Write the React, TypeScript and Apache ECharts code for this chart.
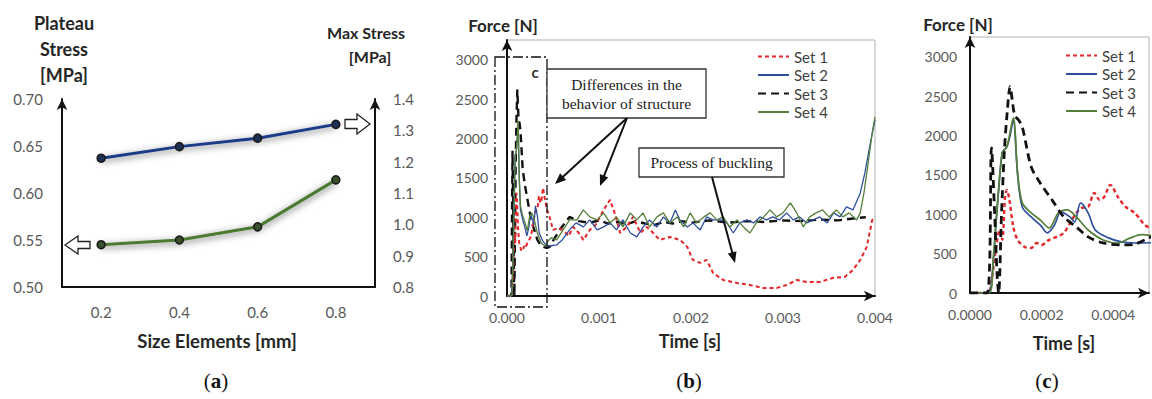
import React, { useEffect, useRef } from 'react';
import * as echarts from 'echarts';

// ---------- DATA ----------
const sizeCategories = ['0.2', '0.4', '0.6', '0.8'];
const maxStress = [1.211, 1.248, 1.275, 1.319];
const plateauStress = [0.545, 0.55, 0.564, 0.614];

const setNames = ['Set 1', 'Set 2', 'Set 3', 'Set 4'];

const set1: [number, number][] = [
  [0, 0], [0.00005, 0], [0.00006, 150], [0.000073, 585], [0.000083, 800], [0.00009, 674], [0.000098, 1220],
  [0.000103, 1309], [0.00011, 1182], [0.000121, 839], [0.000133, 674], [0.000153, 585], [0.000171, 572],
  [0.000186, 635], [0.0002, 610], [0.000221, 674], [0.000242, 712], [0.000262, 763], [0.00028, 890],
  [0.000297, 1017], [0.000312, 1080], [0.00033, 1093], [0.000347, 1271], [0.000362, 1182], [0.000375, 1220],
  [0.000392, 1373], [0.000413, 1220], [0.000435, 1093], [0.00046, 1017], [0.0005, 839], [0.00055, 860],
  [0.00061, 839], [0.00067, 760], [0.00072, 877], [0.00078, 800], [0.00083, 712], [0.0009, 839], [0.00096, 900],
  [0.00101, 1004], [0.00107, 1131], [0.00112, 1220], [0.00117, 1055], [0.00123, 800], [0.0013, 877],
  [0.00137, 1004], [0.00145, 800], [0.00152, 877], [0.00159, 800], [0.00166, 712], [0.00177, 750],
  [0.00188, 712], [0.00196, 623], [0.00202, 458], [0.0021, 420], [0.00217, 458], [0.00224, 292], [0.00235, 203],
  [0.0025, 165], [0.00264, 140], [0.00278, 102], [0.00293, 102], [0.00304, 140], [0.00315, 203], [0.00326, 178],
  [0.0034, 178], [0.00354, 229], [0.00367, 241], [0.00376, 330], [0.00384, 458], [0.00391, 623], [0.00397, 966],
  [0.004, 1000],
];

const set2: [number, number][] = [
  [0, 0], [0.00005, 0], [0.000065, 400], [0.000073, 900], [0.00008, 1300], [0.00009, 1780], [0.000103, 1856],
  [0.000112, 2000], [0.000121, 2200], [0.000133, 1500], [0.000146, 1093], [0.000171, 966], [0.000196, 864],
  [0.000216, 763], [0.000236, 864], [0.000254, 1029], [0.000279, 966], [0.000292, 902], [0.000309, 1144],
  [0.00033, 1017], [0.00035, 800], [0.000387, 700], [0.000423, 648], [0.00046, 635], [0.00054, 648],
  [0.0006, 712], [0.00068, 839], [0.00075, 928], [0.00083, 877], [0.0009, 966], [0.00098, 839], [0.00105, 877],
  [0.00112, 928], [0.00119, 839], [0.00126, 966], [0.00134, 800], [0.00141, 750], [0.00148, 877], [0.00155, 966],
  [0.00163, 877], [0.0017, 1004], [0.00177, 928], [0.00183, 1093], [0.00188, 966], [0.00196, 877],
  [0.00202, 928], [0.0021, 839], [0.00217, 1004], [0.00224, 966], [0.00232, 966], [0.00239, 928], [0.00246, 800],
  [0.00253, 928], [0.00261, 966], [0.00268, 928], [0.00275, 1004], [0.00282, 966], [0.00289, 1004],
  [0.00296, 966], [0.00304, 1055], [0.00311, 966], [0.00318, 1004], [0.00326, 928], [0.00333, 966],
  [0.0034, 1004], [0.00348, 928], [0.00355, 1055], [0.00362, 1004], [0.00369, 1131], [0.00376, 1093],
  [0.00384, 1309], [0.00389, 1563], [0.00395, 1945], [0.004, 2237],
];

const set3: [number, number][] = [
  [0, 0], [0.000048, 0], [0.00006, 1843], [0.000068, 1100], [0.000076, 200], [0.00008, 0], [0.000088, 1000],
  [0.000096, 1800], [0.000104, 2300], [0.000112, 2620], [0.000118, 2450], [0.000125, 2250], [0.000135, 2200],
  [0.000146, 2110], [0.000171, 1601], [0.000196, 1398], [0.000229, 1182], [0.000262, 966], [0.000297, 839],
  [0.00033, 712], [0.000372, 635], [0.00043, 610], [0.00046, 620], [0.0005, 700], [0.00058, 850],
  [0.00068, 1004], [0.00078, 950], [0.0009, 930], [0.001, 960], [0.0011, 920], [0.0012, 940], [0.0013, 910],
  [0.0014, 950], [0.0015, 920], [0.0016, 900], [0.0017, 940], [0.0018, 920], [0.0019, 950], [0.002, 930],
  [0.0022, 960], [0.0024, 930], [0.0026, 950], [0.0028, 940], [0.003, 960], [0.0032, 950], [0.0034, 970],
  [0.0036, 960], [0.0038, 990], [0.0039, 1000],
];

const set4: [number, number][] = [
  [0, 0], [0.000053, 0], [0.000065, 450], [0.000073, 928], [0.00009, 1780], [0.000103, 1856], [0.000121, 2224],
  [0.000133, 1525], [0.000146, 1144], [0.000171, 1017], [0.000196, 928], [0.000221, 826], [0.000247, 1017],
  [0.000272, 1055], [0.000297, 966], [0.00033, 800], [0.000372, 674], [0.000413, 635], [0.000448, 700],
  [0.00048, 740], [0.00054, 712], [0.00061, 839], [0.00068, 966], [0.00076, 966], [0.00083, 1093], [0.0009, 1004],
  [0.00098, 966], [0.00105, 1055], [0.00112, 928], [0.00119, 1004], [0.00126, 877], [0.00134, 1055],
  [0.00141, 966], [0.00148, 1055], [0.00155, 877], [0.00163, 1004], [0.0017, 1055], [0.00177, 928],
  [0.00185, 1004], [0.00192, 877], [0.00199, 1055], [0.00206, 928], [0.00214, 1004], [0.00221, 1055],
  [0.00228, 966], [0.00235, 1004], [0.00242, 877], [0.0025, 966], [0.00257, 877], [0.00264, 800], [0.00271, 928],
  [0.00279, 1004], [0.00286, 1093], [0.00293, 1004], [0.003, 1055], [0.00308, 1182], [0.00315, 1055],
  [0.00322, 877], [0.00329, 1004], [0.00336, 1055], [0.00343, 1093], [0.0035, 1004], [0.00358, 1093],
  [0.00365, 1004], [0.00372, 1055], [0.0038, 966], [0.00384, 1055], [0.00388, 1309], [0.00392, 1640],
  [0.00397, 2072], [0.004, 2275],
];

const forceSets = [set1, set2, set3, set4];

// ---------- STYLE ----------
const SANS = 'Lato, "Noto Sans", sans-serif';
const SERIF = '"Liberation Serif", "DejaVu Serif", serif';
const LABEL_GRAY = '#595959';

const setStyles = [
  { color: '#e5262b', width: 2, type: [4, 3] as any },
  { color: '#2f4f9e', width: 1.3, type: 'solid' as any },
  { color: '#111111', width: 2.4, type: [8, 5] as any },
  { color: '#557f3a', width: 1.3, type: 'solid' as any },
];

function arrowHead(x0: number, y0: number, x1: number, y1: number, len = 11, half = 4.5) {
  const dx = x1 - x0, dy = y1 - y0;
  const L = Math.hypot(dx, dy);
  const ux = dx / L, uy = dy / L;
  const bx = x1 - ux * len, by = y1 - uy * len;
  return [[x1, y1], [bx - uy * half, by + ux * half], [bx + uy * half, by - ux * half]];
}

function pointer(x0: number, y0: number, x1: number, y1: number) {
  const dx = x1 - x0, dy = y1 - y0;
  const L = Math.hypot(dx, dy);
  const ex = x1 - (dx / L) * 9, ey = y1 - (dy / L) * 9;
  return [
    { type: 'line', z: 100, shape: { x1: x0, y1: y0, x2: ex, y2: ey }, style: { stroke: '#111', lineWidth: 2 } },
    { type: 'polygon', z: 100, shape: { points: arrowHead(x0, y0, x1, y1) }, style: { fill: '#111' } },
  ];
}

function txt(text: string, x: number, y: number, size: number, opts: any = {}) {
  return {
    type: 'text', z: 100, x, y,
    style: {
      text, fontFamily: SANS, fontSize: size, fontWeight: 'bold', fill: '#262626',
      align: 'center', verticalAlign: 'middle', ...opts,
    },
  };
}

function panelLabel(letter: string, x: number, y: number) {
  return {
    type: 'text', z: 100, x, y,
    style: {
      text: '({b|' + letter + '})', fontFamily: SERIF, fontSize: 21, fill: '#111',
      align: 'center', verticalAlign: 'middle',
      rich: { b: { fontFamily: SERIF, fontSize: 21, fontWeight: 'bold', fill: '#111' } },
    },
  };
}

const forceAxisLabel = {
  color: LABEL_GRAY, fontFamily: SANS, fontSize: 14,
  formatter: (v: number) => (v > 3000 ? '' : String(v)),
};

export default function App() {
  const ref = useRef<HTMLDivElement>(null);

  useEffect(() => {
    if (!ref.current) return;
    const chart = echarts.init(ref.current, undefined, { renderer: 'svg' });

    const axisLineBlack = (arrowEnd: boolean) => ({
      show: true,
      lineStyle: { color: '#111', width: 2 },
      symbol: arrowEnd ? ['none', 'arrow'] : ['none', 'none'],
      symbolSize: [8, 11],
    });

    const seriesB = forceSets.map((d, i) => ({
      type: 'line', name: setNames[i], xAxisIndex: 1, yAxisIndex: 2, data: d,
      symbol: 'none', smooth: false, z: i === 2 ? 1 : 2,
      lineStyle: { color: setStyles[i].color, width: setStyles[i].width, type: setStyles[i].type },
      itemStyle: { color: setStyles[i].color },
    }));
    const seriesC = forceSets.map((d, i) => ({
      type: 'line', name: setNames[i], xAxisIndex: 2, yAxisIndex: 3, data: d,
      symbol: 'none', smooth: 0.3, z: i === 2 ? 3 : 2,
      lineStyle: { color: setStyles[i].color, width: setStyles[i].width + 0.4, type: setStyles[i].type },
      itemStyle: { color: setStyles[i].color },
    }));

    const legendCommon = {
      orient: 'vertical', padding: 0, itemWidth: 31, itemHeight: 10, itemGap: 3.5,
      data: setNames, selectedMode: false,
      textStyle: { color: '#404040', fontFamily: SANS, fontSize: 15 },
      itemStyle: { opacity: 0 },
    };

    const option: any = {
      animation: false,
      backgroundColor: '#ffffff',
      grid: [
        { left: 62, top: 99, width: 313, height: 188 },
        { left: 507, top: 40, width: 368, height: 256, show: true, borderColor: '#b0b0b0', borderWidth: 1, backgroundColor: 'transparent' },
        { left: 970, top: 37, width: 198, height: 256, show: true, borderColor: '#b0b0b0', borderWidth: 1, backgroundColor: 'transparent' },
      ],
      xAxis: [
        {
          type: 'category', gridIndex: 0, data: sizeCategories, boundaryGap: true,
          axisLine: axisLineBlack(false), axisTick: { show: false },
          axisLabel: { color: LABEL_GRAY, fontFamily: SANS, fontSize: 15, margin: 17 },
          splitLine: { show: false },
        },
        {
          type: 'value', gridIndex: 1, min: 0, max: 0.004, interval: 0.001,
          axisLine: axisLineBlack(true), axisTick: { show: false },
          axisLabel: { color: LABEL_GRAY, fontFamily: SANS, fontSize: 14, margin: 14, formatter: (v: number) => v.toFixed(3) },
          splitLine: { show: false },
        },
        {
          type: 'value', gridIndex: 2, min: 0, max: 0.0005, interval: 0.0002,
          axisLine: axisLineBlack(true), axisTick: { show: false },
          axisLabel: {
            color: LABEL_GRAY, fontFamily: SANS, fontSize: 14, margin: 14,
            formatter: (v: number) => (v > 0.00045 ? '' : v.toFixed(4)),
          },
          splitLine: { show: false },
        },
      ],
      yAxis: [
        {
          type: 'value', gridIndex: 0, position: 'left', min: 0.5, max: 0.7, interval: 0.05,
          axisLine: axisLineBlack(true), axisTick: { show: false }, splitLine: { show: false },
          axisLabel: { color: LABEL_GRAY, fontFamily: SANS, fontSize: 15, margin: 19, formatter: (v: number) => v.toFixed(2) },
        },
        {
          type: 'value', gridIndex: 0, position: 'right', min: 0.8, max: 1.4, interval: 0.1,
          axisLine: axisLineBlack(true), axisTick: { show: false }, splitLine: { show: false },
          axisLabel: { color: LABEL_GRAY, fontFamily: SANS, fontSize: 15, margin: 18, formatter: (v: number) => v.toFixed(1) },
        },
        {
          type: 'value', gridIndex: 1, min: 0, max: 3250, interval: 500,
          axisLine: axisLineBlack(true), axisTick: { show: false }, splitLine: { show: false },
          axisLabel: { ...forceAxisLabel, margin: 19 },
        },
        {
          type: 'value', gridIndex: 2, min: 0, max: 3250, interval: 500,
          axisLine: axisLineBlack(true), axisTick: { show: false }, splitLine: { show: false },
          axisLabel: { ...forceAxisLabel, margin: 13 },
        },
      ],
      legend: [
        { ...legendCommon, left: 757, top: 49 },
        { ...legendCommon, left: 1065, top: 48 },
      ],
      series: [
        {
          type: 'line', name: 'Max Stress', xAxisIndex: 0, yAxisIndex: 1, data: maxStress,
          symbol: 'circle', symbolSize: 8,
          lineStyle: { color: '#1d3b86', width: 3, shadowColor: 'rgba(0,0,0,0.6)', shadowBlur: 7, shadowOffsetY: 2 },
          itemStyle: { color: '#1e2f55', borderColor: '#1a1a1a', borderWidth: 1.5 },
        },
        {
          type: 'line', name: 'Plateau Stress', xAxisIndex: 0, yAxisIndex: 0, data: plateauStress,
          symbol: 'circle', symbolSize: 8,
          lineStyle: { color: '#4d7a30', width: 3, shadowColor: 'rgba(0,0,0,0.6)', shadowBlur: 7, shadowOffsetY: 2 },
          itemStyle: { color: '#35502a', borderColor: '#1a1a1a', borderWidth: 1.5 },
        },
        ...seriesB,
        ...seriesC,
      ],
      graphic: [
        // panel a titles
        txt('Plateau', 64, 23, 18),
        txt('Stress', 64, 49, 18),
        txt('[MPa]', 64, 75, 18),
        txt('Max Stress', 366, 32, 16),
        txt('[MPa]', 370, 56, 16),
        txt('Size Elements [mm]', 217, 341, 18.5),
        panelLabel('a', 216, 381),
        // hollow arrows in (a)
        {
          type: 'polygon', z: 100,
          shape: { points: [[65, 245], [78, 236], [78, 241.5], [90, 241.5], [90, 248.5], [78, 248.5], [78, 254]] },
          style: { fill: '#fff', stroke: '#222', lineWidth: 1.3 },
        },
        {
          type: 'polygon', z: 100,
          shape: { points: [[370, 124], [357, 114], [357, 119.5], [345, 119.5], [345, 128.5], [357, 128.5], [357, 134]] },
          style: { fill: '#fff', stroke: '#222', lineWidth: 1.3 },
        },
        // panel b titles
        txt('Force [N]', 503, 25, 17),
        txt('Time [s]', 690, 341, 18),
        panelLabel('b', 689, 381),
        // dash-dot zoom rectangle
        {
          type: 'rect', z: 90,
          shape: { x: 495, y: 57, width: 52, height: 250 },
          style: { fill: 'none', stroke: '#111', lineWidth: 1.3, lineDash: [10, 3, 2, 3] },
        },
        txt('c', 535, 72, 15, { fontWeight: 'bold', fill: '#333' }),
        // annotation boxes
        {
          type: 'rect', z: 100,
          shape: { x: 547, y: 69, width: 159, height: 49 },
          style: { fill: '#fff', stroke: '#333', lineWidth: 1.3 },
        },
        {
          type: 'text', z: 101, x: 626.5, y: 93.5,
          style: {
            text: 'Differences in the\nbehavior of structure', fontFamily: SERIF, fontSize: 15.5,
            lineHeight: 19, fill: '#222', align: 'center', verticalAlign: 'middle',
          },
        },
        {
          type: 'rect', z: 100,
          shape: { x: 639, y: 148, width: 145, height: 29 },
          style: { fill: '#fff', stroke: '#333', lineWidth: 1.3 },
        },
        {
          type: 'text', z: 101, x: 711.5, y: 162.5,
          style: {
            text: 'Process of buckling', fontFamily: SERIF, fontSize: 15.5, fill: '#222',
            align: 'center', verticalAlign: 'middle',
          },
        },
        ...pointer(627, 118, 555, 184),
        ...pointer(627, 118, 600, 186),
        ...pointer(712, 177, 735, 263),
        // panel c titles
        txt('Force [N]', 958, 24, 17),
        txt('Time [s]', 1064, 343, 18),
        panelLabel('c', 1047, 381),
      ],
    };

    chart.setOption(option);
    return () => chart.dispose();
  }, []);

  return (
    <div
      ref={ref}
      style={{ position: 'fixed', left: 0, top: 0, width: 1152, height: 399, background: '#fff' }}
    />
  );
}
